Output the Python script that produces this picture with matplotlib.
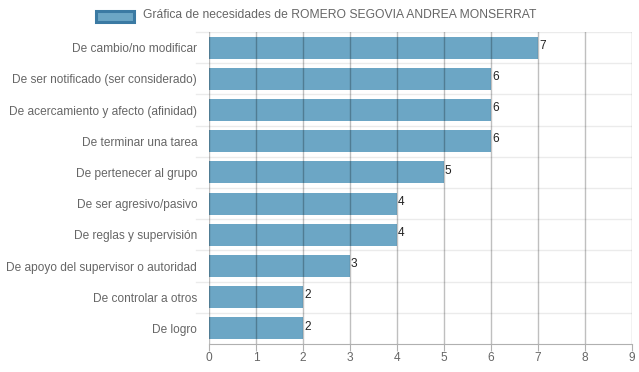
import matplotlib
matplotlib.use("Agg")
import matplotlib.pyplot as plt
from matplotlib.patches import Rectangle

categories = [
    "De cambio/no modificar",
    "De ser notificado (ser considerado)",
    "De acercamiento y afecto (afinidad)",
    "De terminar una tarea",
    "De pertenecer al grupo",
    "De ser agresivo/pasivo",
    "De reglas y supervisión",
    "De apoyo del supervisor o autoridad",
    "De controlar a otros",
    "De logro",
]
values = [7, 6, 6, 6, 5, 4, 4, 3, 2, 2]
x_ticks = list(range(0, 10))
legend_label = "Gráfica de necesidades de ROMERO SEGOVIA ANDREA MONSERRAT"

plt.rcParams['font.family'] = ['Liberation Sans', 'DejaVu Sans']

W, H = 639, 372
fig = plt.figure(figsize=(W / 100, H / 100), dpi=100)
left, right, top, bottom = 209, 632, 32, 344
ax = fig.add_axes([left / W, 1 - bottom / H, (right - left) / W, (bottom - top) / H])

bar_color = "#6ca6c5"
n = len(categories)
ypos = list(range(n))
ax.barh(ypos, values, height=0.7, color=bar_color, zorder=2)
ax.set_ylim(n - 0.5, -0.5)
ax.set_xlim(0, 9)

# vertical grid lines over the bars
for xv in x_ticks:
    ax.axvline(xv, color=(0, 0, 0, 0.25), lw=1, zorder=3)
# horizontal grid lines between categories
for k in range(n):
    ax.axhline(k - 0.5, color="#ebebeb", lw=1, zorder=1)
    ax.plot([-0.27, 0], [k - 0.5, k - 0.5], color="#ebebeb", lw=1, clip_on=False, zorder=1)

for i, v in enumerate(values):
    ax.text(v + 0.02, i - 0.06, str(v), ha="left", va="center", fontsize=8.6, color="#222222", zorder=4)

for s in ["top", "right", "left"]:
    ax.spines[s].set_visible(False)
ax.spines["bottom"].set_color("#b0b0b0")

ax.set_yticks(ypos)
ax.set_yticklabels(categories, fontsize=8.6, color="#666666")
ax.tick_params(axis="y", length=0, pad=8.5)
ax.set_xticks(x_ticks)
ax.set_xticklabels([str(t) for t in x_ticks], fontsize=8.6, color="#666666")
ax.tick_params(axis="x", length=5, color="#b0b0b0", pad=1)

# legend
fig.patches.append(Rectangle((96 / W, 1 - 21.5 / H), 38 / W, 10.5 / H, transform=fig.transFigure,
                             facecolor=bar_color, edgecolor="#3b7aa3", lw=2.2, figure=fig))
fig.text(143 / W, 1 - 15 / H, legend_label, fontsize=8.7, color="#666666", ha="left", va="center")

fig.savefig("out.png", dpi=100)
